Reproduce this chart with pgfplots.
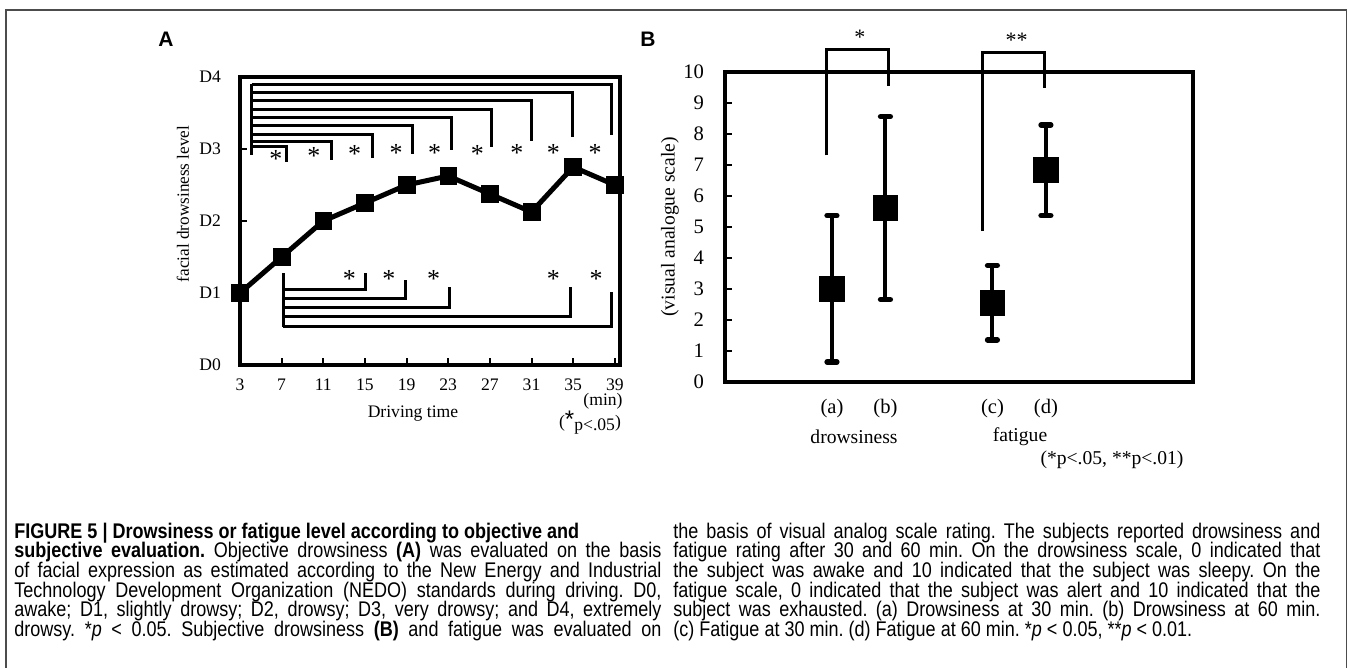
\documentclass[border=0pt]{standalone}
\usepackage{fontspec}
\setmainfont{Liberation Serif}
\newfontfamily\capfont{Liberation Sans}[FakeStretch=0.85]
\newfontfamily\letterfont{Liberation Sans}
\usepackage{pgfplots}
\pgfplotsset{compat=1.18}

\pgfplotsset{panel/.style={
  scale only axis, anchor=south west, clip=false,
  axis line style={line width=2pt},
  tick style={line width=1pt, black},
  tick align=inside, tick pos=left, major tick length=3.5pt,
  /pgf/number format/assume math mode=true}}

\newcommand{\capline}[1]{\makebox[323.5pt][s]{#1}}

\begin{document}
\frenchspacing
\begin{tikzpicture}
\useasboundingbox (0,0) rectangle (674.5pt,334pt);
\draw[line width=0.6pt, black!70] (3pt,0pt) -- (3pt,329pt) -- (673.25pt,329pt) -- (673.25pt,0pt);

% ---------- panel A ----------
\begin{axis}[panel, at={(120pt,151.5pt)}, width=190pt, height=144pt,
  xmin=3, xmax=39.5, ymin=0, ymax=4,
  xtick={3,7,...,39}, ytick={0,1,2,3,4}, yticklabels={D0,D1,D2,D3,D4},
  ticklabel style={font=\fontsize{8.8}{10}\selectfont},
  yticklabel style={xshift=-6pt}, xticklabel style={yshift=-3.5pt}]
% upper comparisons against 3 min
\addplot[black, line width=1.5pt] coordinates {(4.12,2.92)(4.12,3.90)};
\addplot[black, line width=1.5pt] coordinates {(4.12,3.90)(38.7,3.90)(38.7,3.19)};
\addplot[black, line width=1.5pt] coordinates {(4.12,3.78)(34.9,3.78)(34.9,3.17)};
\addplot[black, line width=1.5pt] coordinates {(4.12,3.67)(31.0,3.67)(31.0,3.11)};
\addplot[black, line width=1.5pt] coordinates {(4.12,3.55)(27.2,3.55)(27.2,3.03)};
\addplot[black, line width=1.5pt] coordinates {(4.12,3.44)(23.3,3.44)(23.3,2.99)};
\addplot[black, line width=1.5pt] coordinates {(4.12,3.32)(19.6,3.32)(19.6,2.93)};
\addplot[black, line width=1.5pt] coordinates {(4.12,3.20)(15.7,3.20)(15.7,2.87)};
\addplot[black, line width=1.5pt] coordinates {(4.12,3.11)(11.8,3.11)(11.8,2.85)};
\addplot[black, line width=1.5pt] coordinates {(4.12,3.03)(7.45,3.03)(7.45,2.82)};
% lower comparisons against 7 min
\addplot[black, line width=1.5pt] coordinates {(7.16,0.53)(7.16,1.28)};
\addplot[black, line width=1.5pt] coordinates {(7.16,1.05)(15.1,1.05)(15.1,1.28)};
\addplot[black, line width=1.5pt] coordinates {(7.16,0.93)(18.9,0.93)(18.9,1.18)};
\addplot[black, line width=1.5pt] coordinates {(7.16,0.80)(23.1,0.80)(23.1,1.09)};
\addplot[black, line width=1.5pt] coordinates {(7.16,0.67)(34.7,0.67)(34.7,1.09)};
\addplot[black, line width=1.5pt] coordinates {(7.16,0.53)(38.7,0.53)(38.7,1.02)};
% drowsiness level
\addplot[black, line width=2.5pt, mark=square*, mark size=4.2pt, mark options={line width=0.3pt}]
  coordinates {(3,1)(7,1.5)(11,2)(15,2.25)(19,2.5)(23,2.625)(27,2.375)(31,2.125)(35,2.75)(39,2.5)};
\begin{scope}[every node/.style={font=\fontsize{13}{13}\selectfont, inner sep=0pt}]
\node at (axis cs:6.45,2.86) {*};
\node at (axis cs:10.1,2.90) {*};
\node at (axis cs:14.0,2.93) {*};
\node at (axis cs:18.0,2.94) {*};
\node at (axis cs:21.7,2.94) {*};
\node at (axis cs:25.8,2.93) {*};
\node at (axis cs:29.6,2.94) {*};
\node at (axis cs:33.1,2.94) {*};
\node at (axis cs:37.1,2.94) {*};
\node at (axis cs:13.5,1.20) {*};
\node at (axis cs:17.3,1.20) {*};
\node at (axis cs:21.6,1.20) {*};
\node at (axis cs:33.1,1.20) {*};
\node at (axis cs:37.2,1.20) {*};
\end{scope}
\end{axis}

% ---------- panel B ----------
\begin{axis}[panel, at={(362.5pt,143.15pt)}, width=234pt, height=155pt,
  xmin=0, xmax=8.75, ymin=0, ymax=10,
  ytick={0,1,...,10}, xtick={2,3,5,6}, xticklabels={(a),(b),(c),(d)},
  x tick style={draw=none},
  ticklabel style={font=\fontsize{10.3}{12}\selectfont},
  yticklabel style={xshift=-7pt}, xticklabel style={yshift=-5pt}]
\addplot[black, line width=1.5pt] coordinates {(1.89,7.3)(1.89,10.7)(3.05,10.7)(3.05,9.54)};
\addplot[black, line width=1.5pt] coordinates {(4.82,4.86)(4.82,10.62)(5.97,10.62)(5.97,9.49)};
\addplot[black, only marks, mark=square*, mark size=6.2pt, mark options={line width=0.4pt},
  error bars/.cd, y dir=both, y explicit,
  error bar style={line width=2pt, black},
  error mark=|,
  error mark options={line width=2.8pt, line cap=round, mark size=2.4pt, black}]
  coordinates {(2,3.0) +- (0,2.36) (3,5.6) +- (0,2.95) (5,2.55) +- (0,1.2) (6,6.82) +- (0,1.46)};
\node[font=\fontsize{11}{12}\selectfont, inner sep=0pt] at (axis cs:2.52,11.12) {*};
\node[font=\fontsize{11}{12}\selectfont, inner sep=0pt] at (axis cs:5.45,11.02) {**};
\end{axis}

% ---------- texts around the panels ----------
\node[font=\letterfont\bfseries\fontsize{10.5}{12}\selectfont] at (83pt,314.5pt) {A};
\node[font=\letterfont\bfseries\fontsize{10.5}{12}\selectfont] at (324pt,314.5pt) {B};
\node[rotate=90, font=\fontsize{8.6}{10}\selectfont] at (91.5pt,232pt) {facial drowsiness level};
\node[font=\fontsize{8.8}{10}\selectfont] at (206.5pt,127pt) {Driving time};
\node[font=\fontsize{8.8}{10}\selectfont] at (301.5pt,133.2pt) {(min)};
\node[font=\fontsize{8.8}{10}\selectfont] at (295pt,122.5pt) {({\fontsize{12}{12}\selectfont\letterfont *}\raisebox{-1.5pt}{p<.05})};
\node[rotate=90, font=\fontsize{9.8}{11}\selectfont] at (335pt,220.6pt) {(visual analogue scale)};
\node[font=\fontsize{9.8}{11}\selectfont] at (427pt,115.6pt) {drowsiness};
\node[font=\fontsize{9.8}{11}\selectfont] at (510pt,115.6pt) {fatigue};
\node[font=\fontsize{9.8}{11}\selectfont] at (556pt,104pt) {(*p<.05, **p<.01)};

% ---------- caption ----------
\begin{scope}[every node/.style={anchor=base west, inner sep=0pt, font=\capfont\fontsize{10.6}{10}\selectfont}]
\node at (7pt,64.75pt) {\textbf{FIGURE 5 | Drowsiness or fatigue level according to objective and}};
\node at (7pt,55pt) {\capline{\textbf{subjective evaluation.} Objective drowsiness \textbf{(A)} was evaluated on the basis}};
\node at (7pt,45.15pt) {\capline{of facial expression as estimated according to the New Energy and Industrial}};
\node at (7pt,35.35pt) {\capline{Technology Development Organization (NEDO) standards during driving. D0,}};
\node at (7pt,25.5pt) {\capline{awake; D1, slightly drowsy; D2, drowsy; D3, very drowsy; and D4, extremely}};
\node at (7pt,15.75pt) {\capline{drowsy. *\textit{p} < 0.05. Subjective drowsiness \textbf{(B)} and fatigue was evaluated on}};
\node at (336.5pt,64.75pt) {\capline{the basis of visual analog scale rating. The subjects reported drowsiness and}};
\node at (336.5pt,55pt) {\capline{fatigue rating after 30 and 60 min. On the drowsiness scale, 0 indicated that}};
\node at (336.5pt,45.15pt) {\capline{the subject was awake and 10 indicated that the subject was sleepy. On the}};
\node at (336.5pt,35.35pt) {\capline{fatigue scale, 0 indicated that the subject was alert and 10 indicated that the}};
\node at (336.5pt,25.5pt) {\capline{subject was exhausted. (a) Drowsiness at 30 min. (b) Drowsiness at 60 min.}};
\node at (336.5pt,15.75pt) {(c) Fatigue at 30 min. (d) Fatigue at 60 min. *\textit{p} < 0.05, **\textit{p} < 0.01.};
\end{scope}
\end{tikzpicture}
\end{document}
